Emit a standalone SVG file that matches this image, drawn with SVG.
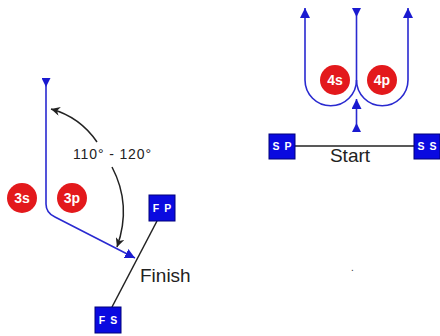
<svg xmlns="http://www.w3.org/2000/svg" width="440" height="336" viewBox="0 0 440 336">
<style>
.route{fill:none;stroke:#2a2ad0;stroke-width:1.6}
.blk{fill:none;stroke:#222;stroke-width:1.5}
.pos{fill:#0a0ae0;stroke:#00007a;stroke-width:1}
.postx{font-family:"Liberation Sans",Arial,sans-serif;font-weight:bold;font-size:10.5px;fill:#fff;text-anchor:middle;letter-spacing:1px}
.red{fill:#e3191c}
.redtx{font-family:"Liberation Sans",Arial,sans-serif;font-weight:bold;font-size:14px;fill:#fff;text-anchor:middle}
.lbl{font-family:"Liberation Sans",Arial,sans-serif;font-size:19px;fill:#222}
.ang{font-family:"Liberation Sans",Arial,sans-serif;font-size:14px;fill:#222}
</style>
<defs>
<marker id="ah" viewBox="0 0 10 10" refX="10" refY="5" markerWidth="10" markerHeight="10" markerUnits="userSpaceOnUse" orient="auto"><path d="M0,0 L10,5 L0,10 z" fill="#1a1ad0"/></marker>
<marker id="st" viewBox="0 0 10 10" refX="0" refY="5" markerWidth="9" markerHeight="9" markerUnits="userSpaceOnUse" orient="auto"><path d="M0,0 L10,5 L0,10 z" fill="#1a1ad0"/></marker>
<marker id="bk" viewBox="0 0 10 10" refX="10" refY="5" markerWidth="9" markerHeight="9" markerUnits="userSpaceOnUse" orient="auto"><path d="M0,0 L10,5 L0,10 L3,5 z" fill="#222"/></marker>
</defs>
<g id="connectors">
<path class="route" d="M46,78 V204 Q46,213 55,217 L135,258" marker-start="url(#st)" marker-end="url(#ah)"/>
<path class="blk" d="M97,142 Q80,117 51,109" marker-end="url(#bk)"/>
<path class="blk" d="M112,167 Q132,205 117,247" marker-end="url(#bk)"/>
<path class="blk" d="M157,221 L112,307"/>
<path class="route" d="M356.5,80 A25.75,25.75 0 0 1 305,80 V8" marker-end="url(#ah)"/>
<path class="route" d="M356.5,80 A25.75,25.75 0 0 0 408,80 V8" marker-end="url(#ah)"/>
<path class="route" d="M356.5,8 V80" marker-start="url(#st)"/>
<path class="route" d="M356.5,132 V99" marker-start="url(#st)" marker-end="url(#ah)"/>
<path class="blk" d="M295,146 H414"/>
</g>
<g id="angle-label"><text class="ang" x="112" y="159" text-anchor="middle" textLength="78">110° - 120°</text></g>
<g id="c3s"><circle class="red" cx="22" cy="198" r="15"/><text class="redtx" x="22" y="203">3s</text></g>
<g id="c3p"><circle class="red" cx="72" cy="198" r="15"/><text class="redtx" x="72" y="203">3p</text></g>
<g id="c4s"><circle class="red" cx="335" cy="80" r="15"/><text class="redtx" x="335" y="85">4s</text></g>
<g id="c4p"><circle class="red" cx="382" cy="80" r="15"/><text class="redtx" x="382" y="85">4p</text></g>
<g id="FP"><rect class="pos" x="149" y="195" width="26" height="26"/><text class="postx" x="162.5" y="212">F P</text></g>
<g id="FS"><rect class="pos" x="95" y="307" width="26" height="26"/><text class="postx" x="108.5" y="324">F S</text></g>
<g id="SP"><rect class="pos" x="269" y="134" width="26" height="25"/><text class="postx" x="282.5" y="150">S P</text></g>
<g id="SS"><rect class="pos" x="414" y="134" width="26" height="25"/><text class="postx" x="427.5" y="150">S S</text></g>
<g id="finish"><text class="lbl" x="140" y="282">Finish</text></g>
<g id="start"><text class="lbl" x="350" y="162" text-anchor="middle">Start</text></g>
<g id="dot"><text x="351" y="271" font-family="Liberation Sans, sans-serif" font-size="10" fill="#333">.</text></g>
</svg>
